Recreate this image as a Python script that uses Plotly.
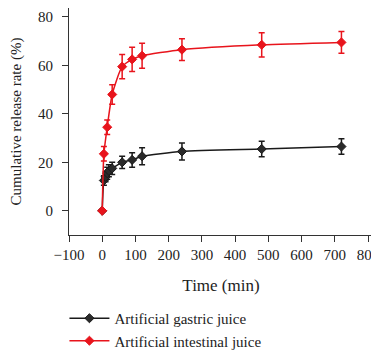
import plotly.graph_objects as go

time_gastric = [0, 5, 10, 15, 20, 30, 60, 90, 120, 240, 480, 720]
gastric = [0, 12.5, 14, 15.5, 16.5, 17.5, 20, 21, 22.5, 24.5, 25.5, 26.5]
gastric_err = [0, 2, 2, 2.5, 2.5, 2.5, 2.5, 3, 3.5, 3.5, 3.2, 3.2]

time_intestinal = [0, 5, 15, 30, 60, 90, 120, 240, 480, 720]
intestinal = [0, 23.5, 34.5, 48, 59.5, 62.5, 64, 66.5, 68.5, 69.5]
intestinal_err = [0, 3, 3, 4, 5, 5, 5.2, 4.5, 5, 4.5]

x_ticks = [-100, 0, 100, 200, 300, 400, 500, 600, 700, 800]
x_ticklabels = ["\u2212100", "0", "100", "200", "300", "400", "500", "600", "700", "800"]
y_ticks = [0, 20, 40, 60, 80]

FONT = "Liberation Serif"

fig = go.Figure()
fig.add_trace(go.Scatter(
    x=time_gastric, y=gastric, name="Artificial gastric juice",
    mode="lines+markers", line=dict(color="#1a1a1a", width=1.5, shape="spline", smoothing=0.6),
    marker=dict(symbol="diamond", size=7, color="#2a2a2a", line=dict(color="#1a1a1a", width=1)),
    error_y=dict(type="data", array=gastric_err, color="#1a1a1a", thickness=1.5, width=3),
))
fig.add_trace(go.Scatter(
    x=time_intestinal, y=intestinal, name="Artificial intestinal juice",
    mode="lines+markers", line=dict(color="#e8141c", width=1.5, shape="spline", smoothing=0.6),
    marker=dict(symbol="diamond", size=7, color="#e8141c", line=dict(color="#e8141c", width=1)),
    error_y=dict(type="data", array=intestinal_err, color="#e8141c", thickness=1.5, width=3),
))

fig.update_layout(
    width=371, height=343,
    margin=dict(l=61, r=6, t=0, b=116, autoexpand=False),
    paper_bgcolor="white", plot_bgcolor="white",
    font=dict(family=FONT, size=15, color="#222"),
    showlegend=True,
    legend=dict(orientation="v", x=-0.015, xanchor="left", y=-0.295, yanchor="top",
                font=dict(family=FONT, size=15, color="#222"), tracegroupgap=0,
                itemwidth=40, bgcolor="rgba(0,0,0,0)"),
    xaxis=dict(range=[-100, 815], tickvals=x_ticks, ticktext=x_ticklabels,
               showline=True, linecolor="#333", linewidth=1.2, ticks="outside", ticklen=6,
               tickcolor="#333", showgrid=False, zeroline=False, automargin=False,
               ticklabeloverflow="allow",
               title=dict(text="Time (min)", font=dict(family=FONT, size=17), standoff=17),
               tickfont=dict(family=FONT, size=15)),
    yaxis=dict(range=[-10, 83.7], tickvals=y_ticks,
               showline=True, linecolor="#333", linewidth=1.2, ticks="outside", ticklen=6,
               tickcolor="#333", showgrid=False, zeroline=False, automargin=False,
               ticklabelstandoff=6,
               title=dict(text="Cumulative release rate (%)", font=dict(family=FONT, size=15), standoff=17),
               tickfont=dict(family=FONT, size=15)),
)

fig.write_html("out.html")
